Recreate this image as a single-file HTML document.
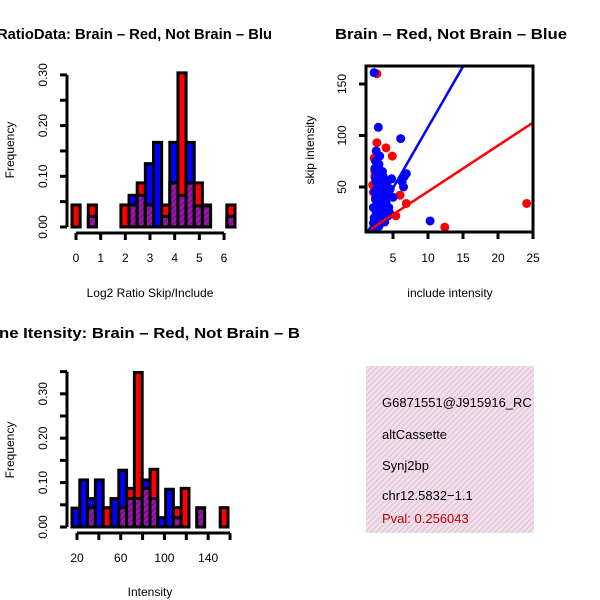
<!DOCTYPE html>
<html><head><meta charset="utf-8"><style>
html,body{margin:0;padding:0;background:#fff}
svg{display:block;font-family:"Liberation Sans",sans-serif}
</style></head><body>
<svg id="c" width="600" height="600" viewBox="0 0 600 600">
<defs>
<pattern id="hp" width="4" height="4" patternUnits="userSpaceOnUse" patternTransform="rotate(45)">
<rect width="4" height="4" fill="#9a1aa8"/><rect width="2" height="4" fill="#7a1290"/></pattern>
<pattern id="pp" width="4" height="4" patternUnits="userSpaceOnUse" patternTransform="rotate(45)">
<rect width="4" height="4" fill="#f6dcf4"/><rect width="1.5" height="4" fill="#dcd0cc"/></pattern>
</defs>
<g id="g"></g>
</svg>
<script>
// Top-left histogram: log2 ratio (20 bins), frequencies
const ratioRed  = [0.0435,0,0.0435,0,0,0,0.0435,0.0435,0.087,0.0435,0,0.0435,0.087,0.304,0.087,0.087,0.0435,0,0,0.0435];
const ratioBlue = [0,0,0.021,0,0,0,0,0.0625,0.0625,0.125,0.167,0.021,0.167,0.0625,0.167,0.0417,0.0417,0,0,0.021];
const ratioXTicks = [0,1,2,3,4,5,6];
const freqTicksTop = [0,0.05,0.10,0.15,0.20,0.25,0.30];
// Bottom-left histogram: intensity (20 bins)
const intRed  = [0,0,0.0435,0,0.0435,0,0.0435,0.087,0.348,0.087,0.13,0,0,0.0435,0.087,0,0.0435,0,0,0.0435];
const intBlue = [0.0426,0.106,0.064,0.106,0,0.064,0.128,0.064,0.064,0.106,0.064,0.021,0.085,0.021,0,0,0.0426,0,0,0];
const intXTicks = [20,40,60,80,100,120,140,160];
const freqTicksBot = [0,0.05,0.10,0.15,0.20,0.25,0.30,0.35];
// Scatter: include vs skip intensity
const redX = [2.7,24.1,12.4,6,6.9,2.7,4,4.9,5.4,2.5,2.2,2.8,3,2.4,3.5,2.9,4,3.2,2.6,2.3,3.7,2.1,2.4,3.3,2.9,2.2,3.8];
const redY = [160,34,11,42,34,93,88,80,22,40,30,25,55,65,45,35,30,20,50,78,38,52,60,28,70,45,24];
const blueX = [2.3,10.3,2.9,6.1,6.9,2.5,2.8,3,2.6,3.2,2.4,3.4,2.7,3.8,2.9,3.3,2.2,4.2,4.6,5,3.6,4,2.5,3,4.5,2.1,6.3,6.6,6.5,2.6,3.1,2.2,3.5,2.8,4.8,3.9,
  2.4,2.7,3.0,3.3,3.6,2.5,2.8,3.1,3.4,2.3,2.6,2.9,3.2,3.5,4.1,4.4,2.5,3.0,2.7,3.2,3.7,2.4,2.9,4.3,3.8,2.6];
const blueY = [161,17,108,97,63,75,70,62,55,50,45,40,35,30,25,20,15,55,48,40,60,35,10,12,25,5,55,60,50,85,80,30,65,42,58,22,
  68,64,58,52,46,38,34,28,24,20,26,44,38,32,42,30,58,72,48,42,50,18,14,22,16,62];
const lineRed = [1, 4.46];    // intercept, slope
const lineBlue = [-10, 11.8];
const scXTicks = [5,10,15,20,25];
const scYTicks = [50,100,150];

const g = document.getElementById('g');
const NS = 'http://www.w3.org/2000/svg';
function mk(tag, attrs, parent){const e=document.createElementNS(NS,tag);for(const k in attrs)e.setAttribute(k,attrs[k]);(parent||g).appendChild(e);return e;}
function txt(s,attrs){const e=mk('text',attrs);e.textContent=s;return e;}

function hist(red, blue, x0, x1, yScale, name){
  const n = red.length, w = (x1-x0)/n;
  const grp = mk('g',{});
  
  
  for(let i=0;i<n;i++){
    const r=red[i], b=blue[i]; if(r===0&&b===0) continue;
    const x=x0+i*w, hi=Math.max(r,b), lo=Math.min(r,b);
    const big = mk('rect',{x:x,y:yScale(hi),width:w,height:yScale(0)-yScale(hi),fill:r>=b?'#ff0000':'#0000ff',stroke:'#000','stroke-width':3},grp);
    
    
    if(lo>0){
      const o = mk('rect',{x:x,y:yScale(lo),width:w,height:yScale(0)-yScale(lo),fill:'url(#hp)',stroke:'#000','stroke-width':3},grp);
      
      
    }
  }
}
function yAxis(ticks, yScale, x, labelEvery, name){
  mk('line',{x1:x,x2:x,y1:yScale(ticks[0]),y2:yScale(ticks[ticks.length-1]),stroke:'#000','stroke-width':3});
  ticks.forEach((t,i)=>{
    mk('line',{x1:x,x2:x-7,y1:yScale(t),y2:yScale(t),stroke:'#000','stroke-width':3});
    if(i%labelEvery===0){
      const e=txt(t.toFixed(2),{x:x-20,y:yScale(t),'font-size':12,'text-anchor':'middle',transform:`rotate(-90 ${x-20} ${yScale(t)})`});
      
      
    }
  });
}
function xAxis(ticks, xScale, y, labelEvery, name){
  mk('line',{x1:xScale(ticks[0]),x2:xScale(ticks[ticks.length-1]),y1:y,y2:y,stroke:'#000','stroke-width':3});
  ticks.forEach((t,i)=>{
    mk('line',{x1:xScale(t),x2:xScale(t),y1:y,y2:y+7,stroke:'#000','stroke-width':3});
    if(i%labelEvery===0){
      const e=txt(String(t),{x:xScale(t),y:y+29,'font-size':12,'text-anchor':'middle'});
      
      
    }
  });
}

// Top-left
const yT = v => 227 - v*507;
hist(ratioRed, ratioBlue, 72, 235, yT, 'ratio');
yAxis(freqTicksTop, yT, 67, 2, 'ratio-y');
xAxis(ratioXTicks, v=>76+v*24.67, 233, 1, 'ratio-x');
// Bottom-left
const yB = v => 527 - v*444;
hist(intRed, intBlue, 72, 228, yB, 'intensity');
yAxis(freqTicksBot, yB, 67, 2, 'intensity-y');
xAxis(intXTicks, v=>77+(v-20)*1.093, 533, 2, 'intensity-x');

// Scatter
const sx = v => 358 + v*7, sy = v => 238.5 - v*1.03;
const clip = mk('clipPath',{id:'sc'}); mk('rect',{x:366,y:66,width:167,height:166},clip);
const pts = mk('g',{'clip-path':'url(#sc)'});


redX.forEach((v,i)=>{const c=mk('circle',{cx:sx(v),cy:sy(redY[i]),r:4.5,fill:'#ff0000'},pts);

});
blueX.forEach((v,i)=>{const c=mk('circle',{cx:sx(v),cy:sy(blueY[i]),r:4.5,fill:'#0000ff'},pts);

});
const lr = mk('line',{x1:sx(0),y1:sy(lineRed[0]),x2:sx(30),y2:sy(lineRed[0]+lineRed[1]*30),stroke:'#ff0000','stroke-width':2.5},pts);


const lb = mk('line',{x1:sx(0),y1:sy(lineBlue[0]),x2:sx(30),y2:sy(lineBlue[0]+lineBlue[1]*30),stroke:'#0000ff','stroke-width':2.5},pts);


const box = mk('rect',{x:366,y:66,width:167,height:166,fill:'none',stroke:'#000','stroke-width':3});


scXTicks.forEach(t=>{mk('line',{x1:sx(t),x2:sx(t),y1:232,y2:239,stroke:'#000','stroke-width':3});
 const e=txt(String(t),{x:sx(t),y:262,'font-size':12,'text-anchor':'middle'});
 
 });
scYTicks.forEach(t=>{mk('line',{x1:366,x2:359,y1:sy(t),y2:sy(t),stroke:'#000','stroke-width':3});
 const e=txt(String(t),{x:346,y:sy(t),'font-size':12,'text-anchor':'middle',transform:`rotate(-90 346 ${sy(t)})`});
 
 });
</script>
<svg width="600" height="600" style="position:absolute;left:0;top:0">
<text x="-3" y="39" font-size="15" font-weight="bold" textLength="275" lengthAdjust="spacingAndGlyphs" font-family="Liberation Sans,sans-serif">RatioData: Brain – Red, Not Brain – Blu</text>
<text x="335" y="39" font-size="15" font-weight="bold" textLength="232" lengthAdjust="spacingAndGlyphs" font-family="Liberation Sans,sans-serif">Brain – Red, Not Brain – Blue</text>
<text x="-1" y="338" font-size="15" font-weight="bold" textLength="301" lengthAdjust="spacingAndGlyphs" font-family="Liberation Sans,sans-serif">ne Itensity: Brain – Red, Not Brain – B</text>
<text x="14" y="150" font-size="12" text-anchor="middle" transform="rotate(-90 14 150)" font-family="Liberation Sans,sans-serif">Frequency</text>
<text x="14" y="450" font-size="12" text-anchor="middle" transform="rotate(-90 14 450)" font-family="Liberation Sans,sans-serif">Frequency</text>
<text x="150" y="297" font-size="12" text-anchor="middle" font-family="Liberation Sans,sans-serif">Log2 Ratio Skip/Include</text>
<text x="150" y="596" font-size="12" text-anchor="middle" font-family="Liberation Sans,sans-serif">Intensity</text>
<text x="314" y="150" font-size="12" text-anchor="middle" transform="rotate(-90 314 150)" font-family="Liberation Sans,sans-serif">skip intensity</text>
<text x="450" y="297" font-size="12" text-anchor="middle" font-family="Liberation Sans,sans-serif">include intensity</text>
<svg x="366" y="366" width="168" height="167">
<rect width="168" height="167" fill="url(#pp)"/>
<g font-size="13" font-family="Liberation Sans,sans-serif">
<text x="16" y="41">G6871551@J915916_RC</text>
<text x="16" y="73">altCassette</text>
<text x="16" y="104">Synj2bp</text>
<text x="16" y="134">chr12.5832−1.1</text>
<text x="16" y="157" fill="#c00000">Pval: 0.256043</text>
</g></svg>
</svg>
</body></html>
